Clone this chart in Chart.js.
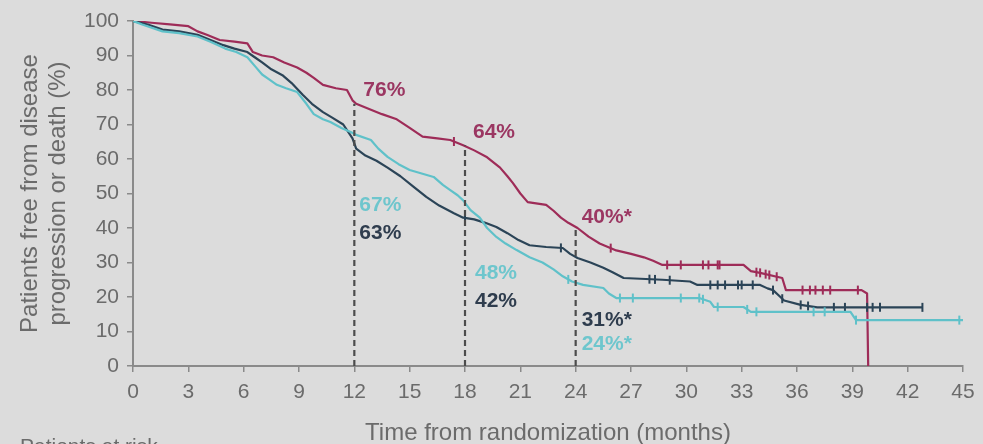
<!DOCTYPE html>
<html><head><meta charset="utf-8">
<script src="https://cdn.jsdelivr.net/npm/chart.js@4.4.0/dist/chart.umd.min.js"></script>
<style>html,body{margin:0;padding:0;background:#dcdcdc;overflow:hidden}#wrap{width:983px;height:444px;position:relative}canvas{display:block}</style>
</head><body><div id="wrap"><canvas id="c" width="983" height="444"></canvas></div>
<script>
// ---- data ----
const xTicks = [0,3,6,9,12,15,18,21,24,27,30,33,36,39,42,45];
const yTicks = [0,10,20,30,40,50,60,70,80,90,100];

const maroonT = [0,1,2,3,3.5,4,4.7,5.5,6.2,6.5,7,7.6,8.2,8.9,9.4,9.8,10.3,11,11.6,11.9,12.1,12.8,13.5,14.3,15,15.7,16.5,17.2,17.9,18.5,19.2,19.9,20.3,20.6,21,21.4,22.4,22.8,23.2,23.6,24.1,24.7,25.3,26.2,27,27.7,28.2,28.7,33.1,33.5,34,35.2,35.4,39.5,39.8,39.84,39.86];
const maroonS = [100,99.5,99,98.5,97,96,94.5,94,93.5,91,90,89.5,88,86.5,85,83.5,81.5,80.5,80,77,76,74.5,73,71.5,69,66.5,66,65.5,64,62.5,60.5,57.5,55,53,50,47.5,46.7,45,43,41.5,40,37.5,35.5,33.5,32.5,31.5,30.5,29.3,29.3,27.5,27,25.5,22,22,21,21,0];

const navyT = [0,0.8,1.6,2.5,3.5,4.2,4.9,5.5,6.2,6.6,7,7.5,8.1,8.6,9.2,9.7,10.3,10.8,11.4,11.9,12.1,12.6,13.2,13.8,14.5,15.2,15.9,16.6,17.4,17.9,18.5,19.1,19.7,20.3,20.9,21.5,22.4,23.3,23.7,24.1,24.8,25.5,26,26.6,28.7,30.2,30.6,34.0,34.4,34.7,35,35.3,36.2,37.1,42.8];
const navyS = [100,99,97.5,97,96,94.5,93,92,91,89.5,88,86,84.3,82,78.6,76,73.6,72,70,66,63,61,59.5,57.5,55,52,49,46.5,44.3,43,42.5,41.5,40.3,38.5,36.5,35,34.5,34.2,32.5,31.3,30,28.5,27.2,25.5,25,24.5,23.5,23.5,22.5,22,20.5,19,17.7,17,17];

const cyanT = [0,0.5,1.6,2.5,3.5,4.2,5,5.6,6.2,6.6,7,7.4,7.8,8.3,8.9,9.4,9.8,10.3,10.7,11.3,11.8,12.1,12.9,13.3,13.8,14.4,15,16.3,16.8,17.2,17.6,17.9,18.3,18.8,19.2,19.7,20.2,20.8,21.5,22.2,22.8,23.3,23.8,24.4,25.5,25.8,26.2,30.7,31.3,31.5,33.1,33.5,38.9,39.2,45];
const cyanS = [100,99,97,96.5,95.5,94,92,91,89.5,87,84.5,83,81.5,80.5,79.4,76,73,71.5,70.7,69,67.8,67,65.5,63,60.6,58.5,56.8,54.8,52.5,51,49.5,48,45.2,43,40,37.4,35.5,33.6,31.5,30,28,26,24.5,23.5,22.6,21,19.7,19.7,18.6,17.1,17.1,15.7,15.7,13.3,13.3];

const maroonCensor = [17.4,25.9,28.96,29.7,30.9,31.2,31.7,31.8,33.8,34.0,34.3,34.5,34.9,36.3,36.7,37.0,37.4,37.8,39.3];
const navyCensor = [18.0,23.2,28.0,28.3,29.1,31.3,31.7,32.1,32.8,33.0,33.6,34.7,35.2,36.2,36.6,38.0,38.6,39.8,40.1,40.5,42.8];
const cyanCensor = [23.6,26.4,27.1,29.7,30.7,30.9,31.7,33.3,33.8,36.9,37.5,39.2,44.8];

const landmarkT = [12,18,24];
const maroonAt = [76,64,40];
const navyAt = [63,42,31];
const cyanAt = [67,48,24];
const starred = [false,false,true];

// ---- styling ----
const C_MAROON = '#9e2c58', C_NAVY = '#2b4457', C_CYAN = '#5fc1c9';
const L_MAROON = '#9b3762', L_NAVY = '#2f3d4e', L_CYAN = '#6ec6cd';
const FONT = '"Liberation Sans", Arial, Helvetica, sans-serif';
const TXT = '#6b6b6b';

function pts(T,S){return T.map((t,i)=>({x:t,y:S[i]}));}
// curve value at time t (linear between listed points)
function valAt(T,S,t){
  if(t<=T[0])return S[0];
  for(let i=1;i<T.length;i++){
    if(t<=T[i]){const t0=T[i-1],t1=T[i];if(t1===t0)return S[i];return S[i-1]+(S[i]-S[i-1])*(t-t0)/(t1-t0);}
  }
  return S[S.length-1];
}
function censorPts(C,T,S){return C.map(t=>({x:t,y:valAt(T,S,t)}));}

const curve=(label,T,S,col)=>({type:'line',label,data:pts(T,S),borderColor:col,borderWidth:2.2,pointRadius:0,fill:false,tension:0,borderJoinStyle:'round'});
const cens=(C,T,S,col)=>({type:'scatter',data:censorPts(C,T,S),borderColor:col,backgroundColor:col,pointStyle:'line',rotation:90,pointRadius:4.5,borderWidth:2,showLine:false});

const datasets=[];
landmarkT.forEach((t,i)=>datasets.push({type:'line',data:[{x:t,y:0},{x:t,y:maroonAt[i]}],borderColor:'#4c4c4c',borderWidth:2.2,borderDash:[6,4],pointRadius:0,fill:false}));
datasets.push(curve('cyan',cyanT,cyanS,C_CYAN));
datasets.push(cens(cyanCensor,cyanT,cyanS,C_CYAN));
datasets.push(curve('navy',navyT,navyS,C_NAVY));
datasets.push(cens(navyCensor,navyT,navyS,C_NAVY));
datasets.push(curve('maroon',maroonT,maroonS,C_MAROON));
datasets.push(cens(maroonCensor,maroonT,maroonS,C_MAROON));

// label layout (value-axis anchor for each label, pixel x offset)
const labelLayout = [
  {set:'m',i:0,y:80,dx:9},{set:'m',i:1,y:67.8,dx:8},{set:'m',i:2,y:43.2,dx:6},
  {set:'c',i:0,y:46.7,dx:5},{set:'n',i:0,y:38.6,dx:5},
  {set:'c',i:1,y:27,dx:10},{set:'n',i:1,y:18.8,dx:10},
  {set:'n',i:2,y:13.3,dx:6},{set:'c',i:2,y:6.4,dx:6}
];

const textPlugin={id:'texts',afterDatasetsDraw(chart){
  const {ctx,scales:{x,y}}=chart;
  ctx.save();
  ctx.font='bold 21px '+FONT;ctx.textBaseline='middle';ctx.textAlign='left';
  labelLayout.forEach(l=>{
    const arr=l.set==='m'?maroonAt:l.set==='n'?navyAt:cyanAt;
    ctx.fillStyle=l.set==='m'?L_MAROON:l.set==='n'?L_NAVY:L_CYAN;
    const txt=arr[l.i]+'%'+(starred[l.i]?'*':'');
    ctx.fillText(txt,x.getPixelForValue(landmarkT[l.i])+l.dx,y.getPixelForValue(l.y));
  });
  ctx.restore();
},afterDraw(chart){
  const {ctx,chartArea:a}=chart;
  ctx.save();
  ctx.fillStyle=TXT;ctx.font='24px '+FONT;ctx.textAlign='center';ctx.textBaseline='middle';
  ctx.fillText('Time from randomization (months)',(a.left+a.right)/2,433);
  ctx.save();
  ctx.translate(30,(a.top+a.bottom)/2);ctx.rotate(-Math.PI/2);
  ctx.fillText('Patients free from disease',0,0);
  ctx.restore();
  ctx.save();
  ctx.translate(58,(a.top+a.bottom)/2);ctx.rotate(-Math.PI/2);
  ctx.fillText('progression or death (%)',0,0);
  ctx.restore();
  ctx.textAlign='left';ctx.textBaseline='top';ctx.font='21px '+FONT;
  ctx.fillText('Patients at risk',20,437);
  ctx.restore();
}};

const bgPlugin={id:'bg',beforeDraw(chart){const c=chart.ctx;c.save();c.fillStyle='#dcdcdc';c.fillRect(0,0,chart.width,chart.height);c.restore();}};

new Chart(document.getElementById('c'),{
  data:{datasets},
  options:{
    responsive:false,animation:false,
    layout:{padding:{top:21,right:20,left:0,bottom:0}},
    plugins:{legend:{display:false},tooltip:{enabled:false}},
    scales:{
      x:{type:'linear',min:0,max:45,
        afterBuildTicks:s=>{s.ticks=xTicks.map(v=>({value:v}));},
        afterFit:s=>{s.height=78;},
        ticks:{autoSkip:false,maxRotation:0,padding:8,color:TXT,font:{family:FONT,size:21}},
        grid:{drawOnChartArea:false,drawTicks:true,tickLength:6,color:'#8a8a8a',lineWidth:1.5},
        border:{display:true,color:'#8a8a8a',width:2}},
      y:{type:'linear',min:0,max:100,
        afterBuildTicks:s=>{s.ticks=yTicks.map(v=>({value:v}));},
        afterFit:s=>{s.width=133;},
        ticks:{padding:8,color:TXT,font:{family:FONT,size:21}},
        grid:{drawOnChartArea:false,drawTicks:true,tickLength:6,color:'#8a8a8a',lineWidth:1.5},
        border:{display:true,color:'#8a8a8a',width:2}}
    }
  },
  plugins:[bgPlugin,textPlugin]
});
</script></body></html>
